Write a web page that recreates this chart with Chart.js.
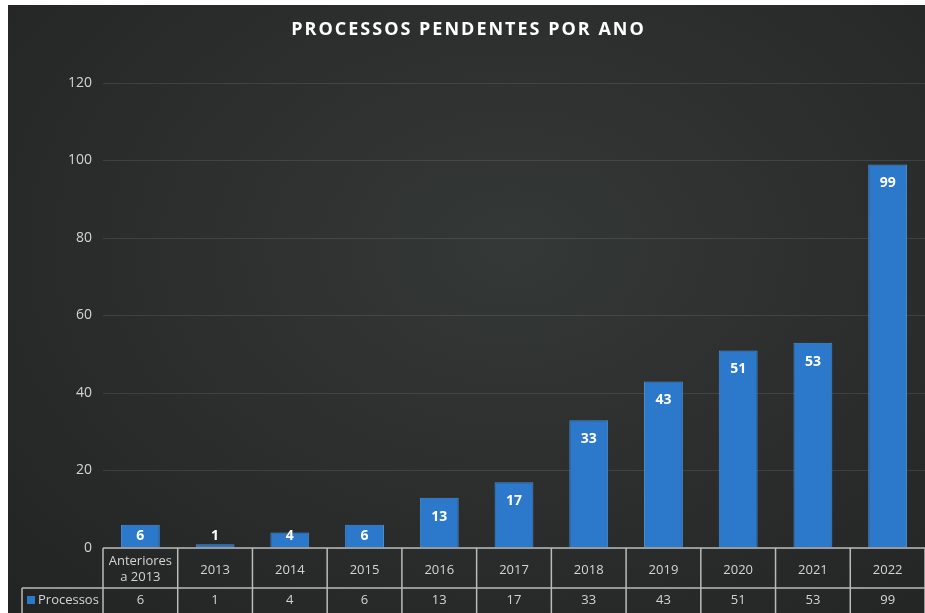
<!DOCTYPE html>
<html>
<head>
<meta charset="utf-8">
<script src="https://cdn.jsdelivr.net/npm/chart.js@4"></script>
<style>
  html, body { margin: 0; padding: 0; background: #fff; }
  #wrap {
    position: absolute; left: 8px; top: 5px; width: 917px; height: 608px;
    background: radial-gradient(ellipse at 55% 40%, #343836 0%, #2a2d2c 55%, #222423 100%);
  }
</style>
</head>
<body>
<div id="wrap"><canvas id="chart"></canvas></div>
<script>
const categories = [['Anteriores', 'a 2013'], '2013', '2014', '2015', '2016', '2017', '2018', '2019', '2020', '2021', '2022'];
const processos = [6, 1, 4, 6, 13, 17, 33, 43, 51, 53, 99];
const yTicks = [0, 20, 40, 60, 80, 100, 120];
const seriesName = 'Processos';
const chartTitle = 'PROCESSOS PENDENTES POR ANO';

const barColor = '#2c79cb';
const lineColor = '#b9bbba';
const textColor = '#d4d4d4';

// spaced-out title, drawn by hand so letterSpacing can be used
const titlePlugin = {
    id: 'spacedTitle',
    afterDraw(chart) {
        const ctx = chart.ctx;
        ctx.save();
        ctx.fillStyle = '#ffffff';
        ctx.font = 'bold 18px "Open Sans", sans-serif';
        ctx.letterSpacing = '2px';
        ctx.textAlign = 'center';
        ctx.textBaseline = 'middle';
        ctx.fillText(chartTitle, chart.width / 2 + 2, 25);
        ctx.restore();
    }
};

// values written inside the top of each bar
const barLabels = {
    id: 'barLabels',
    afterDatasetsDraw(chart) {
        const ctx = chart.ctx;
        const meta = chart.getDatasetMeta(0);
        ctx.save();
        ctx.fillStyle = '#ffffff';
        ctx.font = 'bold 14px "Open Sans", sans-serif';
        ctx.textAlign = 'center';
        ctx.textBaseline = 'middle';
        meta.data.forEach((bar, i) => {
            const y = Math.min(bar.y + 19, bar.base - 11);
            ctx.fillText(String(processos[i]), bar.x, y);
        });
        ctx.restore();
    }
};

// data table under the plot
const dataTable = {
    id: 'dataTable',
    afterDraw(chart) {
        const ctx = chart.ctx;
        const area = chart.chartArea;
        const xs = chart.scales.x;
        const n = categories.length;
        const cell = (area.right - area.left) / n;
        const top = area.bottom;
        const mid = top + 40;
        const bottom = chart.height;
        const legLeft = 14;

        ctx.save();
        ctx.strokeStyle = lineColor;
        ctx.lineWidth = 1.5;
        ctx.beginPath();
        ctx.moveTo(area.left, top); ctx.lineTo(area.right, top);
        ctx.moveTo(legLeft, mid); ctx.lineTo(area.right, mid);
        ctx.moveTo(legLeft, mid); ctx.lineTo(legLeft, bottom);
        for (let i = 0; i <= n; i++) {
            const x = area.left + i * cell;
            ctx.moveTo(x, top); ctx.lineTo(x, bottom);
        }
        ctx.stroke();

        ctx.fillStyle = textColor;
        ctx.font = '13px "Open Sans", sans-serif';
        ctx.textAlign = 'center';
        ctx.textBaseline = 'middle';
        categories.forEach((c, i) => {
            const x = xs.getPixelForValue(i);
            if (Array.isArray(c)) {
                ctx.fillText(c[0], x, top + 13);
                ctx.fillText(c[1], x, top + 29);
            } else {
                ctx.fillText(c, x, top + 22);
            }
            ctx.fillText(String(processos[i]), x, mid + 12);
        });

        ctx.fillStyle = barColor;
        ctx.fillRect(legLeft + 5, mid + 8, 8, 8);
        ctx.fillStyle = textColor;
        ctx.textAlign = 'left';
        ctx.fillText(seriesName, legLeft + 16, mid + 12);
        ctx.restore();
    }
};

new Chart(document.getElementById('chart'), {
    type: 'bar',
    data: {
        labels: categories,
        datasets: [{
            label: seriesName,
            data: processos,
            backgroundColor: barColor,
            borderColor: '#4a8fd6',
            borderWidth: 1,
            barPercentage: 0.52,
            categoryPercentage: 1
        }]
    },
    options: {
        responsive: true,
        maintainAspectRatio: false,
        animation: false,
        layout: { padding: { left: 0, right: 0, top: 78, bottom: 65 } },
        plugins: {
            legend: { display: false },
            tooltip: { enabled: false },
            title: { display: false }
        },
        scales: {
            x: {
                display: false
            },
            y: {
                min: 0,
                max: 120,
                afterFit(scale) { scale.width = 95; },
                afterBuildTicks(scale) { scale.ticks = yTicks.map(v => ({ value: v })); },
                ticks: {
                    color: textColor,
                    font: { family: '"Open Sans", sans-serif', size: 14 },
                    padding: 11
                },
                grid: { color: 'rgba(255,255,255,0.10)', drawTicks: false },
                border: { display: false }
            }
        }
    },
    plugins: [barLabels, dataTable, titlePlugin]
});
</script>
</body>
</html>
